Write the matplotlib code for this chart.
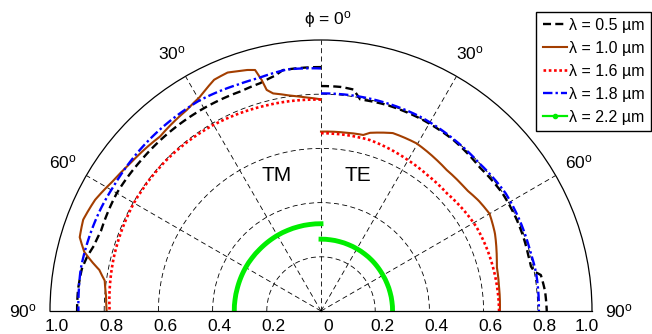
import numpy as np
import matplotlib
matplotlib.use("Agg")
import matplotlib.pyplot as plt
from matplotlib.lines import Line2D
from matplotlib.transforms import offset_copy

# ----------------------------- FONTS -----------------------------
plt.rcParams["font.family"] = ["Liberation Sans", "DejaVu Sans"]
plt.rcParams["mathtext.fontset"] = "custom"
plt.rcParams["mathtext.rm"] = "Liberation Sans"
plt.rcParams["mathtext.it"] = "Liberation Sans:italic"
plt.rcParams["mathtext.fallback"] = "stixsans"

# ----------------------------- DATA -----------------------------
# angle from the vertical (degrees) and normalised radius
# TM is the left half, TE the right half
labels = ["λ = 0.5 µm", "λ = 1.0 µm", "λ = 1.6 µm", "λ = 1.8 µm", "λ = 2.2 µm"]

tm_05_ang = [0, 5, 9, 11, 15, 20, 30, 40, 50, 60, 70, 74, 77, 80, 85, 90]
tm_05_r = [0.900, 0.900, 0.900, 0.885, 0.870, 0.863, 0.864, 0.865, 0.866, 0.870, 0.864, 0.872, 0.886, 0.896, 0.900, 0.900]

tm_10_ang = [0, 4, 8, 12.4, 13.8, 14.4, 15.3, 17, 18.7, 21.4, 24.8, 29.4, 33.7, 42.7, 52.3, 58, 63.8, 69, 73, 76, 78, 79.5, 82, 86, 90]
tm_10_r = [0.781, 0.790, 0.802, 0.822, 0.840, 0.880, 0.922, 0.930, 0.935, 0.945, 0.940, 0.908, 0.892, 0.876, 0.890, 0.905, 0.929, 0.940, 0.931, 0.900, 0.862, 0.832, 0.806, 0.795, 0.791]

tm_16_ang = [0, 15, 30, 45, 60, 75, 90]
tm_16_r = [0.780, 0.785, 0.793, 0.797, 0.797, 0.790, 0.780]

tm_18_ang = [0, 5, 8, 15, 20, 30, 35, 45, 59, 65, 73, 80, 85, 90]
tm_18_r = [0.895, 0.898, 0.900, 0.890, 0.890, 0.897, 0.896, 0.895, 0.893, 0.896, 0.898, 0.900, 0.897, 0.895]

tm_22_ang = [0, 15, 30, 45, 60, 75, 90]
tm_22_r = [0.322, 0.322, 0.322, 0.321, 0.321, 0.320, 0.320]

te_05_ang = [0, 5, 8.3, 10.5, 17.7, 27.2, 37.7, 48, 57, 65, 70, 75, 78, 79.5, 80.7, 85, 90]
te_05_r = [0.830, 0.830, 0.826, 0.794, 0.798, 0.799, 0.798, 0.790, 0.798, 0.797, 0.795, 0.792, 0.792, 0.800, 0.822, 0.830, 0.833]

te_10_ang = [0, 7, 13.5, 15.4, 22, 29.7, 37.5, 41.7, 50.3, 55, 60, 65.9, 71, 75.8, 82, 90]
te_10_r = [0.662, 0.664, 0.668, 0.682, 0.708, 0.712, 0.702, 0.697, 0.699, 0.710, 0.718, 0.703, 0.685, 0.669, 0.663, 0.660]

te_16_ang = [0, 16, 29.6, 38, 46.9, 55, 61.6, 70, 76.6, 90]
te_16_r = [0.656, 0.656, 0.643, 0.637, 0.636, 0.645, 0.652, 0.654, 0.655, 0.657]

te_18_ang = [0, 10, 27, 38, 47, 57.6, 65, 73.7, 80, 90]
te_18_r = [0.803, 0.804, 0.805, 0.801, 0.799, 0.808, 0.806, 0.803, 0.806, 0.804]

te_22_ang = [0, 15, 30, 45, 60, 75, 90]
te_22_r = [0.265, 0.265, 0.265, 0.265, 0.264, 0.264, 0.264]

r_ticks = [0.2, 0.4, 0.6, 0.8, 1.0]
angle_ticks = [30, 60, 90]

# ----------------------------- STYLE -----------------------------
colors = ["black", "#A33E00", "red", "blue", "#00EE00"]
styles = [(0, (3.4, 1.8)), "-", (0, (1, 1)), (0, (4, 1.3, 1, 1.3)), "-"]
widths = [1.7, 1.5, 1.9, 1.7, 3.5]
FS = 12.5

# ----------------------------- PLOT -----------------------------
fig = plt.figure(figsize=(6.52, 3.34), dpi=100)
# square box: the half disc sits in the middle of it (base at y=311 px, radius 271 px)
ax = fig.add_axes([50 / 652, -112.5 / 334, 542 / 652, 542 / 334], projection="polar")
ax.set_theta_zero_location("N")
ax.set_theta_direction(-1)
ax.set_thetamin(-90)
ax.set_thetamax(90)
ax.set_rlim(0, 1)

ax.set_thetagrids([-60, -30, 0, 30, 60], labels=[""] * 5)
ax.set_rgrids([0.2, 0.4, 0.6, 0.8], labels=[""] * 4)
ax.grid(True, color="black", linewidth=0.6, linestyle=(0, (6, 4)))
ax.tick_params(length=0)
ax.set_axisbelow(True)
for sp in ax.spines.values():
    sp.set_linewidth(0.9)
    sp.set_color("black")

tm = [(tm_05_ang, tm_05_r), (tm_10_ang, tm_10_r), (tm_16_ang, tm_16_r),
      (tm_18_ang, tm_18_r), (tm_22_ang, tm_22_r)]
te = [(te_05_ang, te_05_r), (te_10_ang, te_10_r), (te_16_ang, te_16_r),
      (te_18_ang, te_18_r), (te_22_ang, te_22_r)]

for i in range(5):
    for sign, (a, r) in ((-1, tm[i]), (1, te[i])):
        ln, = ax.plot(sign * np.deg2rad(a), r, color=colors[i], linestyle=styles[i],
                      linewidth=widths[i])
        # let the polar transform draw arcs between the read points
        ln.get_path()._interpolation_steps = 20

# angle labels
for a in angle_ticks:
    for s in (-1, 1):
        ax.text(np.deg2rad(s * a), 1.1, f"{a}$^\\mathrm{{o}}$", ha="center", va="center",
                fontsize=FS, clip_on=False)
ax.text(np.deg2rad(1.3), 1.075, r"$\mathrm{\phi}$ = 0$^\mathrm{o}$", ha="center", va="center",
        fontsize=FS, clip_on=False)

# radius labels along the base line
lab_tr = offset_copy(ax.transData, fig=fig, x=7, y=-15.5, units="dots")
ax.text(0, 0, "0", ha="center", va="center", fontsize=FS, transform=lab_tr, clip_on=False)
for rv in r_ticks:
    for s in (-1, 1):
        tr = lab_tr
        if s == 1 and rv == 1.0:
            tr = offset_copy(ax.transData, fig=fig, x=-5, y=-15.5, units="dots")
        ax.text(np.deg2rad(s * 90), rv, f"{rv:.1f}", ha="center", va="center",
                fontsize=FS, transform=tr, clip_on=False)

ax.text(np.deg2rad(-17.9), 0.527, "TM", ha="center", va="center", fontsize=15)
ax.text(np.deg2rad(15.2), 0.52, "TE", ha="center", va="center", fontsize=15)

# legend
handles = []
for i in range(5):
    if i == 4:
        handles.append(Line2D([], [], color=colors[i], linewidth=1.6, marker=".", markersize=6))
    else:
        handles.append(Line2D([], [], color=colors[i], linestyle=styles[i], linewidth=widths[i]))
leg = fig.legend(handles, labels, loc="upper right", bbox_to_anchor=(651 / 652, 1 - 11.5 / 334),
                 bbox_transform=fig.transFigure, fontsize=11.5, frameon=True, fancybox=False,
                 framealpha=1, edgecolor="black", borderpad=0.4, labelspacing=0.5,
                 handlelength=1.5, handletextpad=0.15, borderaxespad=0)
leg.get_frame().set_linewidth(1.0)

fig.savefig("out.png", dpi=100)
